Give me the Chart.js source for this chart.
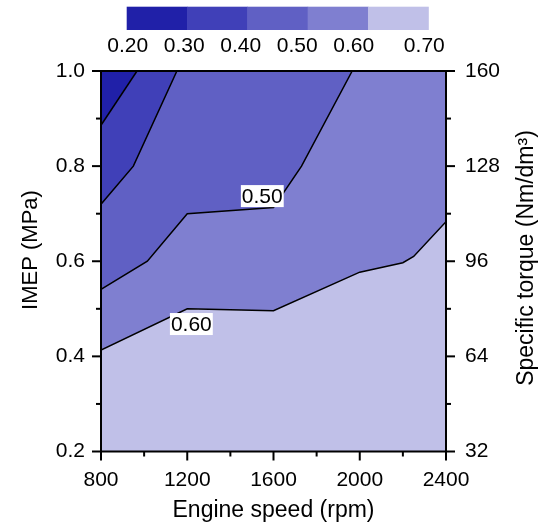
<!DOCTYPE html>
<html>
<head>
<meta charset="utf-8">
<script src="https://cdn.jsdelivr.net/npm/chart.js@4/dist/chart.umd.min.js"></script>
<style>
  html, body { margin: 0; padding: 0; background: #fff; }
  #wrap { width: 547px; height: 524px; position: relative; }
</style>
</head>
<body>
<div id="wrap"><canvas id="chart" width="547" height="524"></canvas></div>
<script>
// contour boundaries, [engine speed (rpm), IMEP (MPa)]
const line030 = [[800, 0.886], [967, 1.0]];                                   // 0.20 | 0.30
const line040 = [[800, 0.72], [950, 0.80], [1152, 1.0]];                       // 0.30 | 0.40
const line050 = [[800, 0.541], [1015, 0.60], [1200, 0.70], [1600, 0.713],
                 [1730, 0.80], [1965, 1.0]];                                   // 0.40 | 0.50
const line060 = [[800, 0.413], [1200, 0.50], [1600, 0.496], [2000, 0.577],
                 [2200, 0.597], [2250, 0.61], [2400, 0.683]];                  // 0.50 | 0.60
const floorLine = [[800, 0.2], [2400, 0.2]];

const levels = ['0.20', '0.30', '0.40', '0.50', '0.60', '0.70'];
const levelColors = ['#2020a8', '#4040b8', '#6060c4', '#7f7fd0', '#c0c0e8'];

const xTicks = [800, 1200, 1600, 2000, 2400];
const yTicks = [0.2, 0.4, 0.6, 0.8, 1.0];
const torqueTicks = [32, 64, 96, 128, 160];

// labels sitting on the contour lines: [text, rpm, IMEP]
const contourLabels = [['0.50', 1548, 0.737], ['0.60', 1219, 0.468]];

const FONT = 'Liberation Sans, Arial, sans-serif';

function toPoints(arr) {
  return arr.map(p => ({ x: p[0], y: p[1] }));
}

function contour(arr, color) {
  return {
    data: toPoints(arr),
    borderColor: '#000',
    borderWidth: 1.5,
    pointRadius: 0,
    tension: 0,
    fill: 'end',
    backgroundColor: color
  };
}

function midpoints(arr) {
  const out = [];
  for (let i = 0; i < arr.length - 1; i++) out.push((arr[i] + arr[i + 1]) / 2);
  return out;
}

const decor = {
  id: 'decor',
  afterDatasetsDraw(chart) {
    const ctx = chart.ctx;
    const sx = chart.scales.x, sy = chart.scales.y;
    ctx.save();
    ctx.font = '21px ' + FONT;
    ctx.textAlign = 'center';
    ctx.textBaseline = 'middle';
    contourLabels.forEach(l => {
      const px = sx.getPixelForValue(l[1]);
      const py = sy.getPixelForValue(l[2]);
      const w = ctx.measureText(l[0]).width;
      ctx.fillStyle = '#fff';
      ctx.fillRect(px - w / 2 - 1, py - 11, w + 2, 22);
      ctx.fillStyle = '#000';
      ctx.fillText(l[0], px, py + 1);
    });
    ctx.restore();
  },
  afterDraw(chart) {
    const ctx = chart.ctx;
    const a = chart.chartArea;
    const sx = chart.scales.x, sy = chart.scales.y, st = chart.scales.y2;
    ctx.save();

    // frame
    ctx.strokeStyle = '#000';
    ctx.lineWidth = 2;
    ctx.strokeRect(a.left, a.top, a.right - a.left, a.bottom - a.top);

    // tick marks
    const tick = (x1, y1, x2, y2) => {
      ctx.beginPath(); ctx.moveTo(x1, y1); ctx.lineTo(x2, y2); ctx.stroke();
    };
    xTicks.forEach(v => { const p = sx.getPixelForValue(v); tick(p, a.bottom, p, a.bottom + 9); });
    midpoints(xTicks).forEach(v => { const p = sx.getPixelForValue(v); tick(p, a.bottom, p, a.bottom + 5); });
    yTicks.forEach(v => { const p = sy.getPixelForValue(v); tick(a.left, p, a.left - 9, p); });
    midpoints(yTicks).forEach(v => { const p = sy.getPixelForValue(v); tick(a.left, p, a.left - 5, p); });
    torqueTicks.forEach(v => { const p = st.getPixelForValue(v); tick(a.right, p, a.right + 9, p); });
    midpoints(torqueTicks).forEach(v => { const p = st.getPixelForValue(v); tick(a.right, p, a.right + 5, p); });

    // vertical axis titles (both read bottom to top)
    ctx.fillStyle = '#000';
    ctx.textAlign = 'center';
    ctx.textBaseline = 'middle';
    ctx.font = '22px ' + FONT;
    ctx.save();
    ctx.translate(31, 250);
    ctx.rotate(-Math.PI / 2);
    ctx.fillText('IMEP (MPa)', 0, 0);
    ctx.restore();
    ctx.font = '23px ' + FONT;
    ctx.save();
    ctx.translate(527, 258);
    ctx.rotate(-Math.PI / 2);
    ctx.fillText('Specific torque (Nm/dm³)', 0, 0);
    ctx.restore();

    // colour bar
    const cbL = 126.7, cbR = 428.3, cbT = 6.7, cbB = 30;
    const segW = (cbR - cbL) / levelColors.length;
    levelColors.forEach((c, i) => {
      ctx.fillStyle = c;
      ctx.fillRect(cbL + i * segW, cbT, segW + 0.5, cbB - cbT);
    });
    ctx.fillStyle = '#000';
    ctx.font = '21px ' + FONT;
    levels.forEach((t, i) => {
      const x = i < levels.length - 1 ? cbL + 1 + 56.5 * i : cbR - 4;
      ctx.fillText(t, x, 46);
    });
    ctx.restore();
  }
};

const tickFont = { family: FONT, size: 21 };

new Chart(document.getElementById('chart'), {
  type: 'line',
  data: {
    datasets: [
      contour(line030, levelColors[0]),
      contour(line040, levelColors[1]),
      contour(line050, levelColors[2]),
      contour(line060, levelColors[3]),
      {
        data: toPoints(floorLine),
        borderColor: 'transparent',
        borderWidth: 0,
        pointRadius: 0,
        fill: 'end',
        backgroundColor: levelColors[4]
      }
    ]
  },
  options: {
    responsive: false,
    animation: false,
    devicePixelRatio: 1,
    layout: { padding: { top: 71, left: 0, right: 0, bottom: 0 } },
    plugins: { legend: { display: false }, tooltip: { enabled: false } },
    scales: {
      x: {
        type: 'linear',
        min: 800,
        max: 2400,
        afterBuildTicks: s => { s.ticks = xTicks.map(v => ({ value: v })); },
        ticks: { font: tickFont, color: '#000', padding: 16, autoSkip: false, maxRotation: 0, callback: v => String(v) },
        grid: { display: false, drawTicks: false },
        border: { display: false },
        title: {
          display: true,
          text: 'Engine speed (rpm)',
          color: '#000',
          font: { family: FONT, size: 23 },
          padding: { top: 0, bottom: 0 }
        },
        afterFit: s => { s.height = 72.5; }
      },
      y: {
        position: 'left',
        min: 0.2,
        max: 1.0,
        afterBuildTicks: s => { s.ticks = yTicks.map(v => ({ value: v })); },
        ticks: { font: tickFont, color: '#000', padding: 16, callback: v => v.toFixed(1) },
        grid: { display: false, drawTicks: false },
        border: { display: false },
        afterFit: s => { s.width = 101; }
      },
      y2: {
        position: 'right',
        min: 32,
        max: 160,
        afterBuildTicks: s => { s.ticks = torqueTicks.map(v => ({ value: v })); },
        ticks: { font: tickFont, color: '#000', padding: 19 },
        grid: { display: false, drawTicks: false },
        border: { display: false },
        afterFit: s => { s.width = 101; }
      }
    }
  },
  plugins: [decor]
});
</script>
</body>
</html>
